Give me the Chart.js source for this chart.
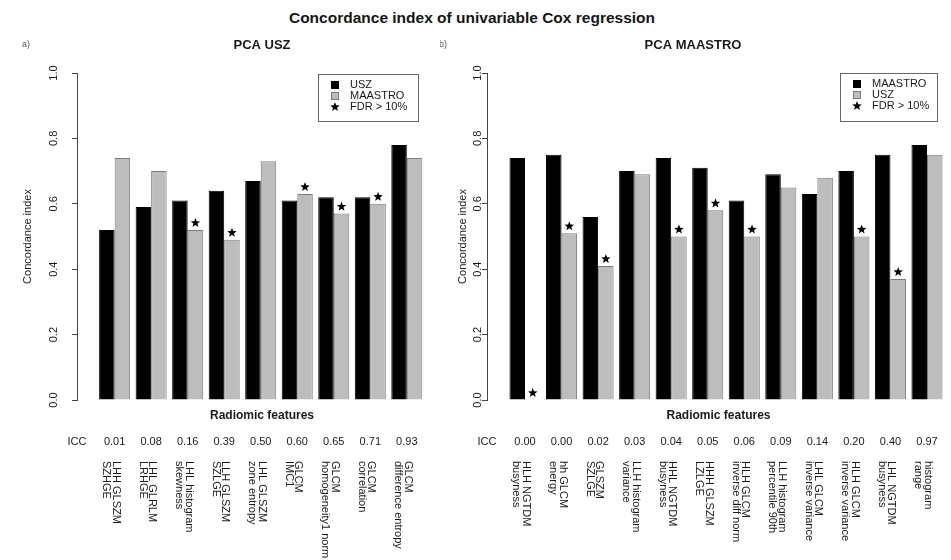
<!DOCTYPE html>
<html>
<head>
<meta charset="utf-8">
<script src="https://cdn.jsdelivr.net/npm/chart.js@4.4.1/dist/chart.umd.min.js"></script>
<style>
  html, body { margin: 0; padding: 0; background: #fff; }
  body { width: 951px; height: 560px; position: relative; overflow: hidden;
         font-family: "Liberation Sans", Arial, Helvetica, sans-serif; }
  #mainTitle { position: absolute; left: 0; width: 944px; top: 9px; line-height: 18px;
               text-align: center; font-weight: bold; font-size: 15.5px; color: #151515; }
  .panel { position: absolute; top: 0; height: 560px; }
  #panelA { left: 0; width: 450px; }
  #panelB { left: 440px; width: 511px; }
</style>
</head>
<body>
<div id="mainTitle">Concordance index of univariable Cox regression</div>
<div class="panel" id="panelA"><canvas id="chartA" width="450" height="560"></canvas></div>
<div class="panel" id="panelB"><canvas id="chartB" width="511" height="560"></canvas></div>

<script>
// ---- Panel a) PCA USZ ----
const featuresUSZ = [
  ["LHH GLSZM", "SZHGE"],
  ["LHL GLRLM", "LRHGE"],
  ["LHL histogram", "skewness"],
  ["LLH GLSZM", "SZLGE"],
  ["LHL GLSZM", "zone entropy"],
  ["GLCM", "IMC1"],
  ["GLCM", "homogeneity1 norm"],
  ["GLCM", "correlation"],
  ["GLCM", "difference entropy"]
];
const iccUSZ = ["0.01", "0.08", "0.16", "0.39", "0.50", "0.60", "0.65", "0.71", "0.93"];
const cindexUSZ_onUSZ     = [0.52, 0.59, 0.61, 0.64, 0.67, 0.61, 0.62, 0.62, 0.78];
const cindexUSZ_onMAASTRO = [0.74, 0.70, 0.52, 0.49, 0.73, 0.63, 0.57, 0.60, 0.74];
const fdrUSZ = [false, false, true, true, false, true, true, true, false];

// ---- Panel b) PCA MAASTRO ----
const featuresMAASTRO = [
  ["HLH NGTDM", "busyness"],
  ["hh GLCM", "energy"],
  ["GLSZM", "SZLGE"],
  ["LLH histogram", "variance"],
  ["HHL NGTDM", "busyness"],
  ["HHH GLSZM", "LZLGE"],
  ["HLH GLCM", "inverse diff norm"],
  ["LLH histogram", "percentile 90th"],
  ["LHL GLCM", "inverse variance"],
  ["HLH GLCM", "inverse variance"],
  ["LHL NGTDM", "busyness"],
  ["histogram", "range"]
];
const iccMAASTRO = ["0.00", "0.00", "0.02", "0.03", "0.04", "0.05", "0.06", "0.09", "0.14", "0.20", "0.40", "0.97"];
const cindexMAASTRO_onMAASTRO = [0.74, 0.75, 0.56, 0.70, 0.74, 0.71, 0.61, 0.69, 0.63, 0.70, 0.75, 0.78];
const cindexMAASTRO_onUSZ     = [0.00, 0.51, 0.41, 0.69, 0.50, 0.58, 0.50, 0.65, 0.68, 0.50, 0.37, 0.75];
const fdrMAASTRO = [true, true, true, false, true, true, true, false, false, true, true, false];

// ---- shared axis ----
const yTicks = [0, 0.2, 0.4, 0.6, 0.8, 1.0];
const yTickLabels = ["0.0", "0.2", "0.4", "0.6", "0.8", "1.0"];

const FONT = "'Liberation Sans', Arial, Helvetica, sans-serif";
const INK = "#1a1a1a";
const BLACK_BAR = "#000000";
const GRAY_BAR = "#bdbdbd";
const GRAY_EDGE = "#7c7c7c";

Chart.defaults.font.family = FONT;
Chart.defaults.color = INK;

function drawStar(ctx, cx, cy, ro, ri) {
  ctx.beginPath();
  for (let k = 0; k < 10; k++) {
    const r = k % 2 === 0 ? ro : ri;
    const a = -Math.PI / 2 + k * Math.PI / 5;
    const px = cx + r * Math.cos(a), py = cy + r * Math.sin(a);
    if (k === 0) ctx.moveTo(px, py); else ctx.lineTo(px, py);
  }
  ctx.closePath();
  ctx.fill();
}

// Stars above flagged bars, rotated tick labels, ICC row, feature names, legend box, titles
const panelDecor = {
  id: 'panelDecor',
  afterDatasetsDraw(chart, args, o) {
    const ctx = chart.ctx;
    const meta = chart.getDatasetMeta(1);
    ctx.save();
    ctx.fillStyle = "#000";
    o.fdr.forEach((flag, i) => {
      if (!flag) return;
      const bar = meta.data[i];
      drawStar(ctx, bar.x, bar.y - 7, 5, 2.1);
    });
    ctx.restore();
  },
  afterDraw(chart, args, o) {
    const ctx = chart.ctx;
    const area = chart.chartArea;
    const xs = chart.scales.x, ys = chart.scales.y;
    ctx.save();
    ctx.fillStyle = INK;

    // panel tag and title
    ctx.textAlign = "center";
    ctx.textBaseline = "middle";
    ctx.fillStyle = "#555";
    ctx.font = "9px " + FONT;
    ctx.fillText(o.tag, o.tagX, 45);
    ctx.fillStyle = INK;
    ctx.font = "bold 13px " + FONT;
    ctx.fillText(o.title, o.titleX, 45);

    // y tick labels, written along the axis
    ctx.font = "11px " + FONT;
    yTicks.forEach((v, i) => {
      const py = ys.getPixelForValue(v);
      ctx.save();
      ctx.translate(area.left - o.yLabelGap, py);
      ctx.rotate(-Math.PI / 2);
      ctx.textAlign = "center";
      ctx.textBaseline = "middle";
      ctx.fillText(yTickLabels[i], 0, 0);
      ctx.restore();
    });

    // ICC row
    ctx.font = "11px " + FONT;
    ctx.textAlign = "center";
    ctx.textBaseline = "middle";
    ctx.fillText("ICC", area.left, o.iccY);
    o.icc.forEach((t, i) => {
      ctx.fillText(t, xs.getPixelForValue(i + 1), o.iccY);
    });

    // feature names, turned a quarter clockwise
    ctx.font = "11px " + FONT;
    o.features.forEach((lines, i) => {
      const cx = xs.getPixelForValue(i + 1);
      ctx.save();
      ctx.translate(cx + 1, o.namesTop);
      ctx.rotate(Math.PI / 2);
      ctx.textAlign = "left";
      ctx.textBaseline = "middle";
      lines.forEach((s, j) => ctx.fillText(s, 0, j * 9.5));
      ctx.restore();
    });

    // legend box
    const L = o.legend;
    ctx.strokeStyle = "#666";
    ctx.lineWidth = 1;
    ctx.strokeRect(L.x + 0.5, L.y + 0.5, L.w, L.h);
    const ds = chart.data.datasets;
    const items = [
      { label: ds[0].label, fill: ds[0].backgroundColor, edge: ds[0].borderColor },
      { label: ds[1].label, fill: ds[1].backgroundColor, edge: ds[1].borderColor },
      { label: "FDR > 10%", star: true }
    ];
    ctx.font = "11px " + FONT;
    ctx.textAlign = "left";
    ctx.textBaseline = "middle";
    items.forEach((it, j) => {
      const ry = L.y + 11 + j * 11;
      const sx = L.x + L.sym;
      if (it.star) {
        ctx.fillStyle = "#000";
        drawStar(ctx, sx, ry, 5, 2.1);
      } else {
        ctx.fillStyle = it.fill;
        ctx.fillRect(sx - 3.5, ry - 3.5, 7, 7);
        ctx.strokeStyle = it.edge;
        ctx.strokeRect(sx - 3.5, ry - 3.5, 7, 7);
      }
      ctx.fillStyle = INK;
      ctx.fillText(it.label, L.x + L.text, ry);
    });
    ctx.restore();
  }
};

function makePanel(canvasId, cfg) {
  const pos = cfg.features.map((_, i) => i + 1);
  return new Chart(document.getElementById(canvasId), {
    type: 'bar',
    data: {
      datasets: [
        {
          label: cfg.names[0],
          data: cfg.black.map((v, i) => ({ x: pos[i], y: v })),
          backgroundColor: BLACK_BAR,
          borderColor: BLACK_BAR,
          borderWidth: 1,
          categoryPercentage: 0.85,
          barPercentage: 1.0
        },
        {
          label: cfg.names[1],
          data: cfg.gray.map((v, i) => ({ x: pos[i], y: v })),
          backgroundColor: GRAY_BAR,
          borderColor: GRAY_EDGE,
          borderWidth: 1,
          categoryPercentage: 0.85,
          barPercentage: 1.0
        }
      ]
    },
    options: {
      responsive: false,
      animation: false,
      events: [],
      layout: { padding: cfg.padding },
      scales: {
        x: {
          type: 'linear',
          offset: false,
          min: cfg.xMin,
          max: cfg.xMax,
          grid: { display: false },
          border: { display: false },
          ticks: { display: false },
          title: {
            display: true,
            text: cfg.xTitle,
            font: { size: 12, weight: 'bold' },
            color: INK,
            padding: 0
          },
          afterFit: s => { s.height = 23; }
        },
        y: {
          min: 0,
          max: 1,
          afterBuildTicks: s => { s.ticks = yTicks.map(v => ({ value: v })); },
          grid: { display: true, drawOnChartArea: false, drawTicks: true, tickLength: 5, color: '#444' },
          border: { display: true, color: '#444', width: 1 },
          ticks: { display: false },
          title: {
            display: true,
            text: 'Concordance index',
            font: { size: 11 },
            color: INK,
            padding: 0
          },
          afterFit: s => { s.width = cfg.yWidth; }
        }
      },
      plugins: {
        legend: { display: false },
        tooltip: { enabled: false },
        title: { display: false },
        panelDecor: {
          tag: cfg.tag,
          tagX: cfg.tagX,
          title: cfg.title,
          titleX: cfg.titleX,
          yLabelGap: cfg.yLabelGap,
          icc: cfg.icc,
          iccY: 442,
          features: cfg.features,
          namesTop: 461,
          fdr: cfg.fdr,
          legend: cfg.legend
        }
      }
    },
    plugins: [panelDecor]
  });
}

makePanel('chartA', {
  tag: 'a)', tagX: 26, title: 'PCA USZ', titleX: 262,
  names: ['USZ', 'MAASTRO'],
  black: cindexUSZ_onUSZ, gray: cindexUSZ_onMAASTRO, fdr: fdrUSZ,
  features: featuresUSZ, icc: iccUSZ,
  xTitle: 'Radiomic features',
  xMin: -0.03, xMax: 10.1,
  padding: { left: 21, top: 73, right: 3, bottom: 137 },
  yWidth: 56, yLabelGap: 23,
  legend: { x: 318, y: 74, w: 100, h: 47, sym: 17, text: 32 }
});

makePanel('chartB', {
  tag: 'b)', tagX: 3, title: 'PCA MAASTRO', titleX: 253,
  names: ['MAASTRO', 'USZ'],
  black: cindexMAASTRO_onMAASTRO, gray: cindexMAASTRO_onUSZ, fdr: fdrMAASTRO,
  features: featuresMAASTRO, icc: iccMAASTRO,
  xTitle: 'Radiomic features',
  xMin: -0.04, xMax: 12.63,
  padding: { left: 16, top: 73, right: 1, bottom: 137 },
  yWidth: 31, yLabelGap: 9,
  legend: { x: 400, y: 73, w: 97, h: 48, sym: 17, text: 32 }
});
</script>
</body>
</html>
